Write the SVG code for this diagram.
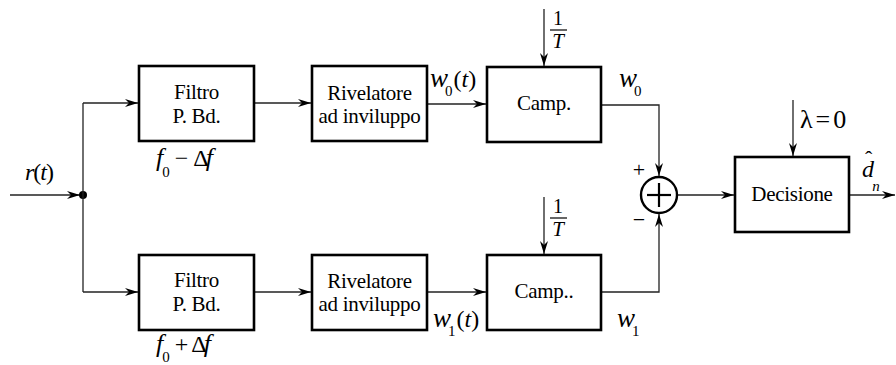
<svg xmlns="http://www.w3.org/2000/svg" width="896" height="365" viewBox="0 0 896 365">
<style>
.box{fill:#fff;stroke:#000;stroke-width:2.6}
.wire{fill:none;stroke:#222;stroke-width:1.3}
.t{font-family:"Liberation Serif","Times New Roman",serif;font-size:21px;fill:#000;letter-spacing:-0.3px}
.m{font-family:"Liberation Serif","Times New Roman",serif;font-size:24px;fill:#000}
.i{font-style:italic}
.w{font-size:27px;font-style:italic}
.sub{font-size:15px;font-style:normal}
</style>
<defs>
<marker id="ar" markerUnits="userSpaceOnUse" markerWidth="14" markerHeight="10" refX="13" refY="4" orient="auto">
<path d="M0,0 L13,4 L0,8 L4,4 z" fill="#000"/>
</marker>
</defs>
<g id="connectors">
<line class="wire" x1="10" y1="195" x2="80" y2="195" marker-end="url(#ar)"/>
<circle cx="83" cy="195" r="4" fill="#000"/>
<polyline class="wire" points="83,103 83,292"/>
<line class="wire" x1="83" y1="103" x2="138" y2="103" marker-end="url(#ar)"/>
<line class="wire" x1="83" y1="292" x2="138" y2="292" marker-end="url(#ar)"/>
<line class="wire" x1="254" y1="103" x2="311" y2="103" marker-end="url(#ar)"/>
<line class="wire" x1="254" y1="292" x2="311" y2="292" marker-end="url(#ar)"/>
<line class="wire" x1="427" y1="104" x2="486" y2="104" marker-end="url(#ar)"/>
<line class="wire" x1="427" y1="292" x2="486" y2="292" marker-end="url(#ar)"/>
<line class="wire" x1="544" y1="9" x2="544" y2="66" marker-end="url(#ar)"/>
<line class="wire" x1="544" y1="197" x2="544" y2="254" marker-end="url(#ar)"/>
<polyline class="wire" points="601,105 659,105 659,176" marker-end="url(#ar)"/>
<polyline class="wire" points="601,292 659,292 659,214" marker-end="url(#ar)"/>
<line class="wire" x1="677" y1="195" x2="734" y2="195" marker-end="url(#ar)"/>
<line class="wire" x1="793" y1="100" x2="793" y2="156" marker-end="url(#ar)"/>
<line class="wire" x1="849" y1="195" x2="895" y2="195" marker-end="url(#ar)"/>
</g>
<g id="filtro0">
<rect class="box" x="139" y="66" width="115" height="75"/>
<text class="t" x="196.5" y="99" text-anchor="middle">Filtro</text>
<text class="t" x="196.5" y="123" text-anchor="middle">P. Bd.</text>
</g>
<g id="rivelatore0">
<rect class="box" x="312" y="66" width="115" height="75"/>
<text class="t" x="369.5" y="100" text-anchor="middle">Rivelatore</text>
<text class="t" x="369.5" y="123" text-anchor="middle">ad inviluppo</text>
</g>
<g id="camp0">
<rect class="box" x="487" y="67" width="114" height="75"/>
<text class="t" x="544" y="110" text-anchor="middle">Camp.</text>
</g>
<g id="filtro1">
<rect class="box" x="139" y="255" width="115" height="75"/>
<text class="t" x="196.5" y="287" text-anchor="middle">Filtro</text>
<text class="t" x="196.5" y="311" text-anchor="middle">P. Bd.</text>
</g>
<g id="rivelatore1">
<rect class="box" x="312" y="255" width="115" height="75"/>
<text class="t" x="369.5" y="288" text-anchor="middle">Rivelatore</text>
<text class="t" x="369.5" y="311" text-anchor="middle">ad inviluppo</text>
</g>
<g id="camp1">
<rect class="box" x="487" y="255" width="114" height="75"/>
<text class="t" x="544" y="298" text-anchor="middle">Camp..</text>
</g>
<g id="sommatore">
<circle cx="659" cy="195" r="18" fill="#fff" stroke="#000" stroke-width="2.4"/>
<line x1="647" y1="195" x2="671" y2="195" stroke="#000" stroke-width="2.2"/>
<line x1="659" y1="183" x2="659" y2="207" stroke="#000" stroke-width="2.2"/>
<text class="m" x="639" y="177" text-anchor="middle" style="font-size:22px">+</text>
<text class="m" x="639" y="227" text-anchor="middle" style="font-size:22px">−</text>
</g>
<g id="decisione">
<rect class="box" x="735" y="157" width="114" height="75"/>
<text class="t" x="792" y="201" text-anchor="middle">Decisione</text>
</g>
<g id="labels">
<text class="m" x="25" y="180"><tspan class="i">r</tspan><tspan dx="-1">(</tspan><tspan class="i" dx="-1">t</tspan><tspan dx="-1">)</tspan></text>
<text class="m" x="156" y="166"><tspan class="i" style="font-size:26px">f</tspan><tspan class="sub" dx="-1" dy="11">0</tspan><tspan dx="5" dy="-11">−</tspan><tspan dx="5">Δ</tspan><tspan class="i" style="font-size:26px" dx="-3">f</tspan></text>
<text class="m" x="156" y="352"><tspan class="i" style="font-size:26px">f</tspan><tspan class="sub" dx="-1" dy="10">0</tspan><tspan dx="5" dy="-10">+</tspan><tspan dx="3">Δ</tspan><tspan class="i" style="font-size:26px" dx="-3">f</tspan></text>
<text class="m" x="430" y="87"><tspan class="w">w</tspan><tspan class="sub" dx="-3" dy="9">0</tspan><tspan dx="1" dy="-9">(</tspan><tspan class="i">t</tspan><tspan>)</tspan></text>
<text class="m" x="619" y="87"><tspan class="w">w</tspan><tspan class="sub" dx="-3" dy="9">0</tspan></text>
<text class="m" x="433" y="327"><tspan class="w">w</tspan><tspan class="sub" dx="-3" dy="9">1</tspan><tspan dx="1" dy="-9">(</tspan><tspan class="i">t</tspan><tspan>)</tspan></text>
<text class="m" x="617" y="327"><tspan class="w">w</tspan><tspan class="sub" dx="-3" dy="9">1</tspan></text>
<text class="m" x="558" y="25" text-anchor="middle" style="font-size:20px">1</text>
<line x1="550" y1="30" x2="567" y2="30" stroke="#000" stroke-width="1.2"/>
<text class="m i" x="558" y="48" text-anchor="middle" style="font-size:21px">T</text>
<text class="m" x="558" y="213" text-anchor="middle" style="font-size:20px">1</text>
<line x1="550" y1="218" x2="567" y2="218" stroke="#000" stroke-width="1.2"/>
<text class="m i" x="558" y="236" text-anchor="middle" style="font-size:21px">T</text>
<text class="m" x="800" y="128" style="font-size:26px">λ<tspan dx="3">=</tspan><tspan dx="3">0</tspan></text>
<text class="m" x="862" y="177"><tspan class="i">d</tspan><tspan dx="-9" dy="-11" style="font-size:22px">ˆ</tspan><tspan dx="0" dy="25" style="font-size:15px;font-style:italic">n</tspan></text>
</g>
</svg>
